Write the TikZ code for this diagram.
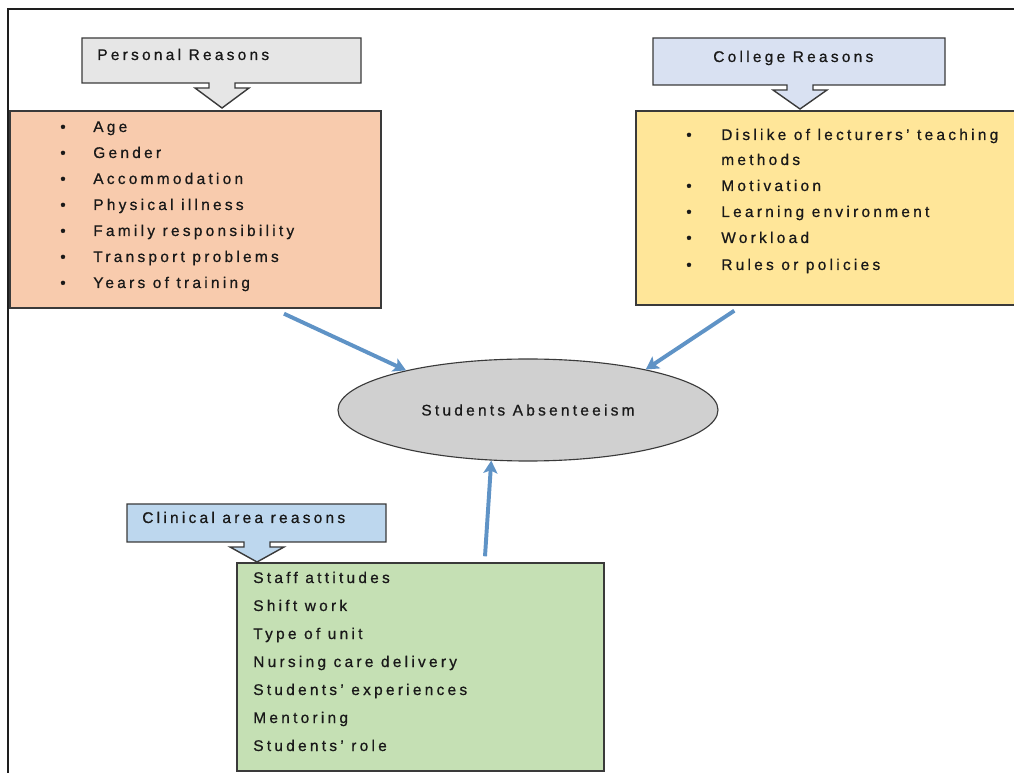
\documentclass[tikz,border=0pt]{standalone}
\usepackage{fontspec}
\setmainfont{Liberation Sans}[LetterSpace=21,FakeBold=0.7]
\usetikzlibrary{arrows.meta,calc,shapes.geometric}
\definecolor{framegray}{HTML}{1E1E1E}
\definecolor{boxline}{HTML}{3A3A3A}
\definecolor{greycall}{HTML}{E6E6E6}
\definecolor{lilaccall}{HTML}{D9E1F2}
\definecolor{bluecall}{HTML}{BDD7EE}
\definecolor{peach}{HTML}{F8CBAD}
\definecolor{butter}{HTML}{FFE699}
\definecolor{sage}{HTML}{C5E0B4}
\definecolor{ovalgray}{HTML}{D0D0D0}
\definecolor{linkblue}{HTML}{5F93C6}
\newcommand{\pxu}{0.025cm}
\tikzset{
  listbox/.style={draw=boxline,line width=1pt,inner sep=0pt},
  txt/.style={inner sep=0pt,text=black!90,font=\fontsize{11}{13}\selectfont},
  item/.style={txt,anchor=base west},
  dot/.style={txt,anchor=base},
  calloutline/.style={draw=boxline,line width=1pt},
  link/.style={-{Stealth[length=9pt,width=10pt,inset=2pt]},line width=2.8pt,draw=linkblue},
}

\begin{document}
\begin{tikzpicture}[x=\pxu,y=-\pxu]
  \useasboundingbox (0,0) rectangle (1014,773);
  \draw[framegray,line width=1.2pt] (8,773) -- (8,9) -- (1014,9);
  % fill, left, top, right, bottom, tip x, tip y
  \newcommand{\callout}[7]{\draw[calloutline,fill=#1] (#2,#3) -- (#4,#3) -- (#4,#5) -- (#6+13,#5) -- (#6+13,#5+5)
    -- (#6+27,#5+5) -- (#6,#7) -- (#6-27,#5+5) -- (#6-13,#5+5) -- (#6-13,#5) -- (#2,#5) -- cycle;}

  % personal reasons
  \callout{greycall}{82}{38}{361}{83}{222}{108}
  \node[item] (perst) at (97,60) {Personal Reasons};
  \node[listbox,fill=peach,minimum width=371*\pxu,minimum height=197*\pxu] (pers) at (195.5,209.5) {};
  \foreach \t [count=\i] in {Age,Gender,Accommodation,Physical illness,Family responsibility,Transport problems,Years of training}{
    \node[dot] at (63,106+26*\i) {\textbullet};
    \node[item] (pers\i) at (93,106+26*\i) {\t};
  }

  % college reasons
  \callout{lilaccall}{653}{38}{945}{85}{800}{109}
  \node[item] (collt) at (713,62) {College Reasons};
  \node[listbox,fill=butter,minimum width=384*\pxu,minimum height=194*\pxu] (coll) at (828,208) {};
  \foreach \y/\t in {140/{Dislike of lecturers' teaching},191/Motivation,217/{Learning environment},243/Workload,270/{Rules or policies}}{
    \node[dot] at (689,\y) {\textbullet};
    \node[item] (coll\y) at (721,\y) {\t};
  }
  \node[item] (coll165) at (721,165) {methods};

  % clinical area reasons
  \callout{bluecall}{127}{504}{386}{542}{257}{562}
  \node[item] (clint) at (142,523) {Clinical area reasons};
  \node[listbox,fill=sage,minimum width=367*\pxu,minimum height=208*\pxu] (clin) at (420.5,667) {};
  \foreach \t [count=\i] in {Staff attitudes,Shift work,Type of unit,Nursing care delivery,Students' experiences,Mentoring,Students' role}{
    \node[item] (clin\i) at (253,555+28*\i) {\t};
  }

  % centre
  \node[ellipse,draw=boxline,line width=0.8pt,fill=ovalgray,minimum width=380*\pxu,minimum height=102*\pxu,inner sep=0pt,txt] (abs) at (528,410) {Students Absenteeism};

  \draw[link] ($(pers.south)+(88.5,5)$) -- (abs.162.8);
  \draw[link] ($(coll.south west)+(99,5)$) -- (abs.19.1);
  \draw[link] ($(clin.north)+(64.5,-6)$) -- (abs.-126.7);
\end{tikzpicture}
\end{document}
